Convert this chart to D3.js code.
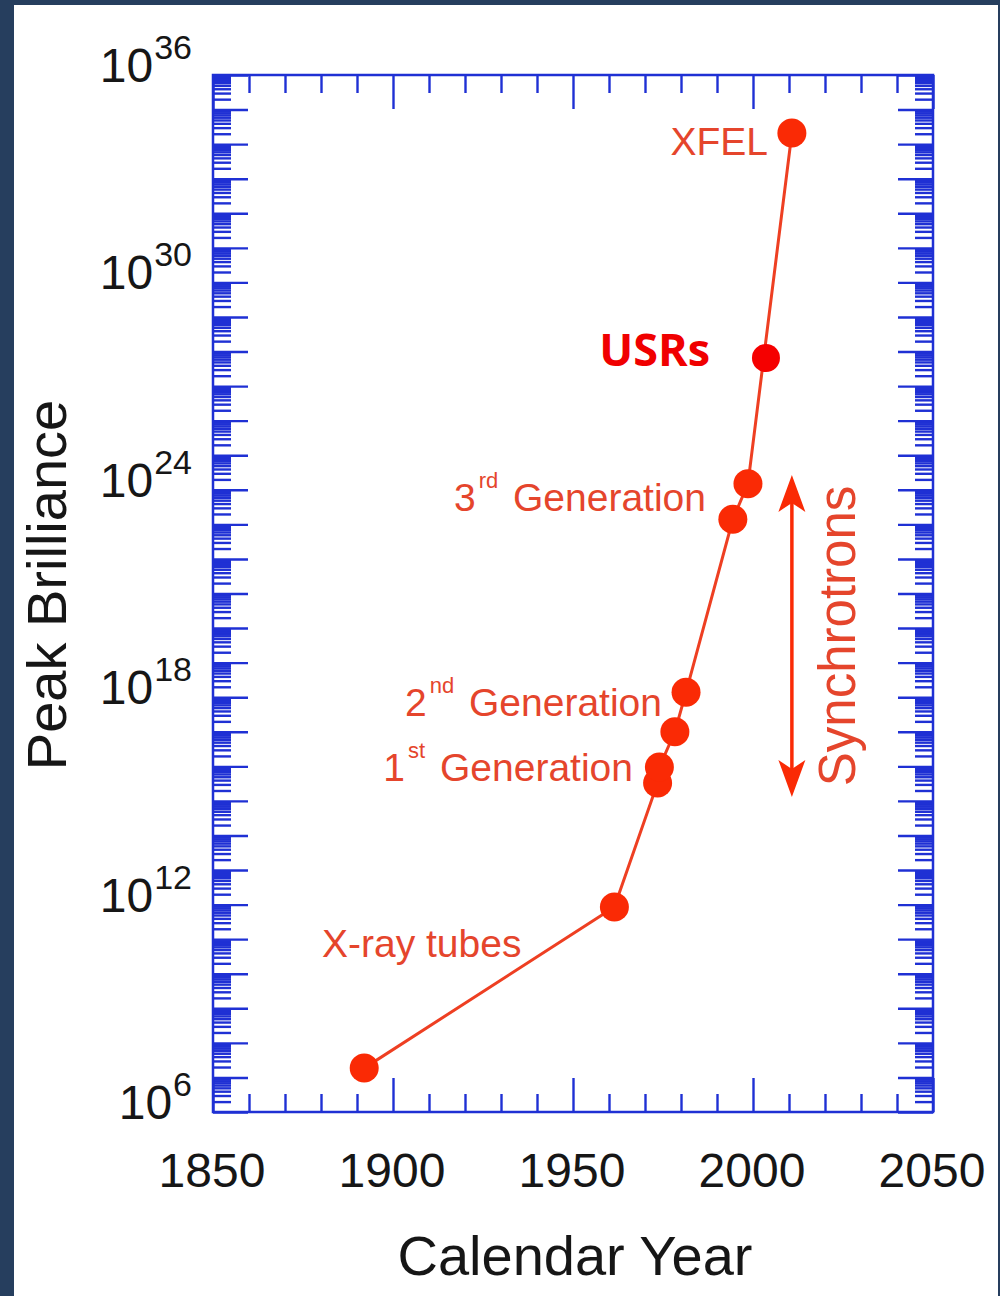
<!DOCTYPE html>
<html>
<head>
<meta charset="utf-8">
<script src="https://cdn.jsdelivr.net/npm/d3@7/dist/d3.min.js"></script>
<style>
  html, body { margin: 0; padding: 0; background: #263e5e; }
  svg { display: block; }
</style>
</head>
<body>
<script>
// Peak brilliance of X-ray sources over time
const years      = [1892, 1961.5, 1973.5, 1974, 1978.3, 1981.4, 1994.4, 1998.6, 2010.8];
const brilliance = [1.86e7, 8.5e11, 3.3e15, 9.5e15, 1.0e17, 1.4e18, 1.4e23, 1.5e24, 2.1e34];

const usrYear = 2003.6;
const usrBrilliance = 6.5e27;

// Synchrotron span shown by the double arrow
const synchYear  = 2010.8;
const synchRange = [1.3e15, 2.7e24];

const xTickLabels = [1850, 1900, 1950, 2000, 2050];
const yTickExponents = [6, 12, 18, 24, 30, 36];

const W = 1000, H = 1296;
const plotL = 213, plotR = 933, plotT = 75, plotB = 1112;
const blue = "#1f30d4";
const dotRed = "#fa2a05";
const lineRed = "#ee3f22";
const textRed = "#e5452c";
const font = "'Liberation Sans', Arial, Helvetica, sans-serif";

const svg = d3.select("body").append("svg")
  .attr("width", W).attr("height", H);

svg.append("rect").attr("x", 14).attr("y", 5)
  .attr("width", 984).attr("height", H - 5).attr("fill", "#fff");

const x = d3.scaleLinear().domain([1850, 2050]).range([plotL, plotR]);
const y = d3.scaleLog().domain([1e6, 1e36]).range([plotB, plotT]);

// tick positions
const decades = d3.range(6, 37).map(e => Math.pow(10, e));
const minors = [];
for (let e = 6; e < 36; e++) for (let k = 2; k <= 9; k++) minors.push(k * Math.pow(10, e));
const xMajor = [1850, 1900, 1950, 2000, 2050];
const xMinor = d3.range(1860, 2050, 10).filter(v => v % 50 !== 0);

function styleAxis(g) {
  g.select(".domain").remove();
  g.selectAll(".tick line").attr("stroke", blue).attr("stroke-width", 2.4);
  g.selectAll(".tick text").remove();
}

// left and right axes: decade ticks and log minor ticks, pointing inward
svg.append("g").attr("transform", `translate(${plotL},0)`)
  .call(d3.axisLeft(y).tickValues(decades).tickSize(-35).tickFormat("")).call(styleAxis);
svg.append("g").attr("transform", `translate(${plotL},0)`)
  .call(d3.axisLeft(y).tickValues(minors).tickSize(-18).tickFormat("")).call(styleAxis);
svg.append("g").attr("transform", `translate(${plotR},0)`)
  .call(d3.axisRight(y).tickValues(decades).tickSize(-35).tickFormat("")).call(styleAxis);
svg.append("g").attr("transform", `translate(${plotR},0)`)
  .call(d3.axisRight(y).tickValues(minors).tickSize(-18).tickFormat("")).call(styleAxis);

// top and bottom axes
svg.append("g").attr("transform", `translate(0,${plotB})`)
  .call(d3.axisBottom(x).tickValues(xMajor).tickSize(-34).tickFormat("")).call(styleAxis);
svg.append("g").attr("transform", `translate(0,${plotB})`)
  .call(d3.axisBottom(x).tickValues(xMinor).tickSize(-18).tickFormat("")).call(styleAxis);
svg.append("g").attr("transform", `translate(0,${plotT})`)
  .call(d3.axisTop(x).tickValues(xMajor).tickSize(-34).tickFormat("")).call(styleAxis);
svg.append("g").attr("transform", `translate(0,${plotT})`)
  .call(d3.axisTop(x).tickValues(xMinor).tickSize(-18).tickFormat("")).call(styleAxis);

// frame
svg.append("rect").attr("x", plotL).attr("y", plotT)
  .attr("width", plotR - plotL).attr("height", plotB - plotT)
  .attr("fill", "none").attr("stroke", blue).attr("stroke-width", 2.5);

// x tick labels
svg.append("g").selectAll("text").data(xTickLabels).join("text")
  .attr("x", d => x(d) - 1).attr("y", 1187)
  .attr("text-anchor", "middle")
  .attr("font-family", font).attr("font-size", 48).attr("fill", "#161616")
  .text(d => d);

// y tick labels as powers of ten
const yl = svg.append("g").selectAll("text").data(yTickExponents).join("text")
  .attr("x", 192).attr("y", d => y(Math.pow(10, d)) + 7)
  .attr("text-anchor", "end")
  .attr("font-family", font).attr("fill", "#161616");
yl.append("tspan").attr("font-size", 48).text("10");
yl.append("tspan").attr("font-size", 34).attr("dy", -23).attr("dx", 1).text(d => d);

// axis titles
svg.append("text")
  .attr("transform", "translate(66,585) rotate(-90)")
  .attr("text-anchor", "middle")
  .attr("font-family", font).attr("font-size", 56).attr("fill", "#161616")
  .text("Peak Brilliance");
svg.append("text")
  .attr("x", 575).attr("y", 1275)
  .attr("text-anchor", "middle")
  .attr("font-family", font).attr("font-size", 56).attr("fill", "#161616")
  .text("Calendar Year");

// series line and points
const pts = years.map((yr, i) => [yr, brilliance[i]]);
svg.append("path")
  .datum(pts)
  .attr("d", d3.line().x(d => x(d[0])).y(d => y(d[1])))
  .attr("fill", "none").attr("stroke", lineRed).attr("stroke-width", 3);
svg.append("g").selectAll("circle").data(pts).join("circle")
  .attr("cx", d => x(d[0])).attr("cy", d => y(d[1])).attr("r", 14.5)
  .attr("fill", dotRed);

// synchrotron double arrow
const ax = x(synchYear), aTop = y(synchRange[1]), aBot = y(synchRange[0]);
svg.append("line")
  .attr("x1", ax).attr("x2", ax).attr("y1", aTop + 20).attr("y2", aBot - 20)
  .attr("stroke", dotRed).attr("stroke-width", 3.5);
const head = "M0,0 L13.5,37 L0,28 L-13.5,37 Z";
svg.append("path").attr("d", head)
  .attr("transform", `translate(${ax},${aTop})`).attr("fill", dotRed);
svg.append("path").attr("d", head)
  .attr("transform", `translate(${ax},${aBot}) scale(1,-1)`).attr("fill", dotRed);
svg.append("text")
  .attr("transform", `translate(855,${(aTop + aBot) / 2}) rotate(-90)`)
  .attr("text-anchor", "middle")
  .attr("font-family", font).attr("font-size", 51).attr("fill", textRed)
  .text("Synchrotrons");

// point annotations
function label(xp, yp, anchor, main, sup, rest) {
  const t = svg.append("text")
    .attr("x", xp).attr("y", yp).attr("text-anchor", anchor)
    .attr("font-family", font).attr("font-size", 39).attr("fill", textRed);
  t.append("tspan").text(main);
  if (sup) {
    t.append("tspan").attr("font-size", 22).attr("dy", -23).attr("dx", 3).text(sup);
    t.append("tspan").attr("dy", 23).attr("dx", 4).text(rest);
  }
  return t;
}
label(768, 155, "end", "XFEL");
label(706, 511, "end", "3", "rd", " Generation");
label(662, 716, "end", "2", "nd", " Generation");
label(633, 781, "end", "1", "st", " Generation");
label(322, 957, "start", "X-ray tubes");

// USRs marker
svg.append("circle")
  .attr("cx", x(usrYear)).attr("cy", y(usrBrilliance)).attr("r", 14)
  .attr("fill", "#f50000");
svg.append("text")
  .attr("x", 710).attr("y", 366).attr("text-anchor", "end")
  .attr("font-family", "'Open Sans', sans-serif").attr("font-weight", 700)
  .attr("font-size", 45).attr("fill", "#f00000")
  .text("USRs");
</script>
</body>
</html>
